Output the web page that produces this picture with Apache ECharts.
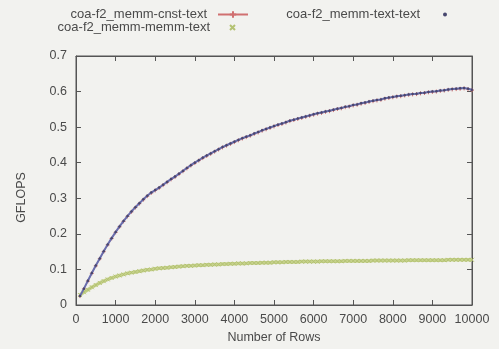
<!DOCTYPE html>
<html>
<head>
<meta charset="utf-8">
<script src="https://cdn.jsdelivr.net/npm/echarts@6/dist/echarts.min.js"></script>
<style>
html,body{margin:0;padding:0;background:#f2f2ef;}
#c{width:499px;height:349px;}
</style>
</head>
<body>
<div id="c"></div>
<script>
// Number of rows (x values)
const rows = [
 100,200,300,400,500,600,700,800,900,1000,
 1100,1200,1300,1400,1500,1600,1700,1800,1900,2000,
 2100,2200,2300,2400,2500,2600,2700,2800,2900,3000,
 3100,3200,3300,3400,3500,3600,3700,3800,3900,4000,
 4100,4200,4300,4400,4500,4600,4700,4800,4900,5000,
 5100,5200,5300,5400,5500,5600,5700,5800,5900,6000,
 6100,6200,6300,6400,6500,6600,6700,6800,6900,7000,
 7100,7200,7300,7400,7500,7600,7700,7800,7900,8000,
 8100,8200,8300,8400,8500,8600,8700,8800,8900,9000,
 9100,9200,9300,9400,9500,9600,9700,9800,9900,10000
];
// coa-f2_memm-text-text (GFLOPS)
const textText = [
 0.025,0.046,0.068,0.090,0.111,0.131,0.151,0.170,0.188,0.205,
 0.221,0.236,0.250,0.263,0.275,0.286,0.297,0.307,0.316,0.323,
 0.330,0.338,0.346,0.354,0.361,0.369,0.377,0.385,0.393,0.400,
 0.407,0.414,0.420,0.426,0.432,0.438,0.444,0.449,0.454,0.459,
 0.464,0.469,0.473,0.477,0.482,0.486,0.491,0.495,0.499,0.503,
 0.507,0.510,0.514,0.518,0.521,0.524,0.527,0.530,0.533,0.536,
 0.539,0.541,0.544,0.546,0.549,0.552,0.554,0.557,0.559,0.562,
 0.564,0.567,0.569,0.572,0.574,0.576,0.578,0.581,0.583,0.585,
 0.587,0.588,0.590,0.592,0.593,0.594,0.596,0.597,0.599,0.600,
 0.601,0.603,0.604,0.606,0.607,0.608,0.609,0.610,0.608,0.605
];
// coa-f2_memm-cnst-text (GFLOPS)
const cnstText = [
 0.025,0.045,0.067,0.089,0.110,0.130,0.150,0.169,0.187,0.204,
 0.220,0.235,0.249,0.262,0.274,0.285,0.296,0.306,0.315,0.322,
 0.329,0.337,0.345,0.353,0.360,0.368,0.376,0.384,0.392,0.399,
 0.406,0.413,0.419,0.425,0.431,0.437,0.443,0.448,0.453,0.458,
 0.463,0.468,0.472,0.476,0.481,0.485,0.490,0.494,0.498,0.502,
 0.506,0.509,0.513,0.517,0.520,0.523,0.526,0.529,0.532,0.535,
 0.538,0.540,0.543,0.545,0.548,0.551,0.553,0.556,0.558,0.561,
 0.563,0.566,0.568,0.571,0.573,0.575,0.577,0.580,0.582,0.584,
 0.586,0.587,0.589,0.591,0.592,0.593,0.595,0.596,0.598,0.599,
 0.600,0.602,0.603,0.605,0.606,0.607,0.608,0.609,0.607,0.604
];
// coa-f2_memm-memm-text (GFLOPS)
const memmText = [
 0.028,0.036,0.043,0.050,0.056,0.062,0.067,0.072,0.076,0.080,
 0.083,0.086,0.089,0.091,0.093,0.095,0.097,0.099,0.100,0.102,
 0.103,0.104,0.105,0.106,0.107,0.108,0.109,0.110,0.110,0.111,
 0.112,0.112,0.113,0.113,0.114,0.114,0.115,0.115,0.116,0.116,
 0.117,0.117,0.117,0.118,0.118,0.118,0.119,0.119,0.119,0.120,
 0.120,0.120,0.121,0.121,0.121,0.121,0.122,0.122,0.122,0.122,
 0.122,0.123,0.123,0.123,0.123,0.123,0.123,0.124,0.124,0.124,
 0.124,0.124,0.124,0.124,0.125,0.125,0.125,0.125,0.125,0.125,
 0.125,0.125,0.125,0.126,0.126,0.126,0.126,0.126,0.126,0.126,
 0.126,0.126,0.126,0.127,0.127,0.127,0.127,0.127,0.127,0.127
];
const seriesNames = ['coa-f2_memm-cnst-text','coa-f2_memm-text-text','coa-f2_memm-memm-text'];

const pair = (ys) => rows.map((r, i) => [r, ys[i]]);
const FONT = 'Liberation Sans, Arial, sans-serif';
const plusPath = 'path://M0,5L10,5M5,0L5,10';
const crossPath = 'path://M0,0L10,10M10,0L0,10';
const TXT = '#4a4a4a';

const chart = echarts.init(document.getElementById('c'), null, {renderer: 'canvas'});
const axisCommon = () => ({
  axisLine: {show: true, onZero: false, lineStyle: {color: '#555', width: 1}},
  axisTick: {show: true, inside: true, length: 5, lineStyle: {color: '#555'}},
  splitLine: {show: false}
});
const legendText = (pad) => ({fontFamily: FONT, fontSize: 13, color: TXT, padding: [0, pad, 0, 0]});
chart.setOption({
  backgroundColor: '#f2f2ef',
  animation: false,
  grid: {left: 76, right: 27, top: 56, bottom: 42, show: true, borderColor: '#555', borderWidth: 1, backgroundColor: 'transparent'},
  legend: [
    {data: [seriesNames[0]], right: 250, top: 8, padding: 0, align: 'right',
     itemWidth: 30, itemHeight: 8, itemGap: 10, textStyle: legendText(6)},
    {data: [{name: seriesNames[2], icon: crossPath}], right: 263, top: 21, padding: 0, align: 'right',
     itemWidth: 5, itemHeight: 5, itemGap: 10, textStyle: legendText(15)},
    {data: [{name: seriesNames[1], icon: 'circle'}], right: 52, top: 8, padding: 0, align: 'right',
     itemWidth: 4, itemHeight: 4, itemGap: 10, textStyle: legendText(18)}
  ],
  xAxis: [
    Object.assign({type: 'value', min: 0, max: 10000, interval: 1000, position: 'bottom',
      name: 'Number of Rows', nameLocation: 'middle', nameGap: 26,
      nameTextStyle: {fontFamily: FONT, fontSize: 12.5, color: TXT},
      axisLabel: {fontFamily: FONT, fontSize: 12.5, color: TXT, margin: 8,
        formatter: (v) => String(v)}}, axisCommon()),
    Object.assign({type: 'value', min: 0, max: 10000, interval: 1000, position: 'top',
      axisLabel: {show: false}}, axisCommon())
  ],
  yAxis: [
    Object.assign({type: 'value', min: 0, max: 0.7, interval: 0.1, position: 'left',
      name: 'GFLOPS', nameLocation: 'middle', nameGap: 48, nameRotate: 90,
      nameTextStyle: {fontFamily: FONT, fontSize: 12.5, color: TXT, padding: [0, 34, 0, 0]},
      axisLabel: {fontFamily: FONT, fontSize: 12.5, color: TXT, margin: 9,
        formatter: (v) => String(Math.round(v * 10) / 10)}}, axisCommon()),
    Object.assign({type: 'value', min: 0, max: 0.7, interval: 0.1, position: 'right',
      axisLabel: {show: false}}, axisCommon())
  ],
  series: [
    {name: seriesNames[0], type: 'line', xAxisIndex: 0, yAxisIndex: 0,
     data: pair(cnstText), symbol: plusPath, symbolSize: 4, showSymbol: true,
     lineStyle: {color: '#d07070', width: 1}, itemStyle: {color: '#d07070', borderColor: '#d07070', borderWidth: 1},
     z: 2},
    {name: seriesNames[2], type: 'line', xAxisIndex: 1, yAxisIndex: 1,
     data: pair(memmText), symbol: crossPath, symbolSize: 4, showSymbol: true,
     lineStyle: {color: '#c6d28c', width: 3.5}, itemStyle: {color: '#b4c272', borderColor: '#b4c272', borderWidth: 1},
     z: 3},
    {name: seriesNames[1], type: 'line', xAxisIndex: 0, yAxisIndex: 0,
     data: pair(textText), symbol: 'circle', symbolSize: 2.5, showSymbol: true,
     lineStyle: {color: '#6a6eae', width: 2}, itemStyle: {color: '#47476e'},
     z: 4}
  ]
});
</script>
</body>
</html>
